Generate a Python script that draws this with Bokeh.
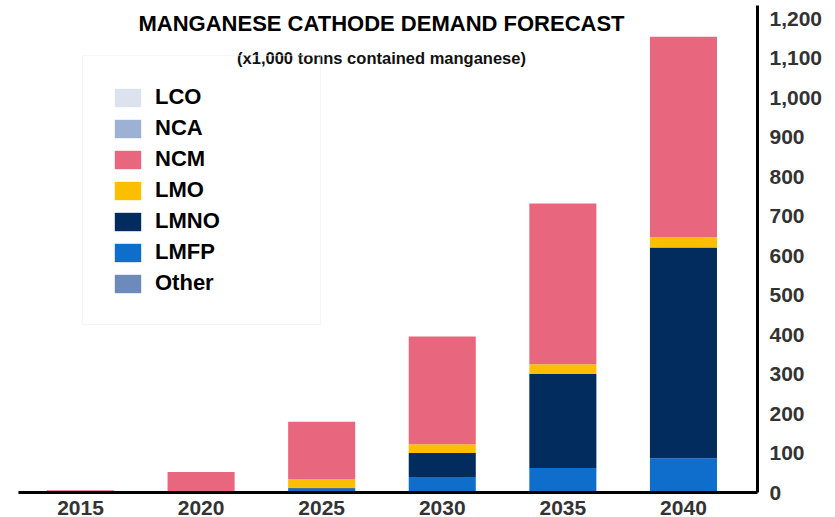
from bokeh.plotting import figure
from bokeh.models import (ColumnDataSource, Range1d, FixedTicker, Legend, LegendItem,
                          Label, NumeralTickFormatter)
from bokeh.embed import file_html
from bokeh.resources import INLINE

years = ["2015", "2020", "2025", "2030", "2035", "2040"]
LCO = [0, 0, 0, 0, 0, 0]
NCA = [0, 0, 0, 0, 0, 0]
NCM = [6, 52, 145, 273, 407, 508]
LMO = [0, 0, 22, 22, 25, 26]
LMNO = [0, 0, 2, 61, 238, 533]
LMFP = [0, 0, 10, 39, 62, 87]
Other = [0, 0, 0, 0, 0, 0]
y_ticks = list(range(0, 1201, 100))

colors = {
    "LCO": "#DCE3EF", "NCA": "#9DB1D4", "NCM": "#E8677F", "LMO": "#FBBF00",
    "LMNO": "#032C5E", "LMFP": "#0F6DCB", "Other": "#6D8BBA",
}
legend_order = ["LCO", "NCA", "NCM", "LMO", "LMNO", "LMFP", "Other"]
stack_order = ["Other", "LMFP", "LMNO", "LMO", "NCM", "NCA", "LCO"]

src = ColumnDataSource(dict(x=list(range(len(years))), LCO=LCO, NCA=NCA, NCM=NCM,
                            LMO=LMO, LMNO=LMNO, LMFP=LMFP, Other=Other))

FONT = "Liberation Sans"

p = figure(width=835, height=517, x_range=Range1d(-0.514, 5.614), y_range=Range1d(0, 1233),
           output_backend="svg", toolbar_location=None, y_axis_location="right",
           min_border_left=18, min_border_top=5, min_border_right=78, min_border_bottom=0)
p.outline_line_color = None
p.grid.visible = False
p.background_fill_color = "white"
p.border_fill_color = "white"

rs = p.vbar_stack(stack_order, x="x", width=0.556, source=src,
                  color=[colors[k] for k in stack_order], line_color=None)
rmap = dict(zip(stack_order, rs))

# axes
xa = p.xaxis[0]
xa.ticker = FixedTicker(ticks=list(range(len(years))))
xa.major_label_overrides = {i: y for i, y in enumerate(years)}
xa.axis_line_width = 3
xa.axis_line_color = "black"
xa.major_tick_line_color = None
xa.minor_tick_line_color = None
xa.major_label_standoff = 2
xa.major_label_text_font = FONT
xa.major_label_text_font_style = "bold"
xa.major_label_text_font_size = "21px"
xa.major_label_text_color = "#333333"

ya = p.yaxis[0]
ya.ticker = FixedTicker(ticks=y_ticks)
ya.formatter = NumeralTickFormatter(format="0,0")
ya.axis_line_width = 3
ya.axis_line_color = "black"
ya.major_tick_line_color = None
ya.minor_tick_line_color = None
ya.major_label_standoff = 6
ya.major_label_text_font = FONT
ya.major_label_text_font_style = "bold"
ya.major_label_text_font_size = "21px"
ya.major_label_text_color = "#333333"

legend = Legend(items=[LegendItem(label=k, renderers=[rmap[k]]) for k in legend_order],
                location=(64, 167), glyph_width=33, glyph_height=23, label_height=23,
                spacing=5, padding=28, label_standoff=11, label_width=137,
                label_text_font=FONT, label_text_font_style="bold",
                label_text_font_size="22px", label_text_color="black",
                border_line_color="#EDEDED", border_line_width=1,
                background_fill_alpha=0.0)
p.add_layout(legend, "center")

# titles
p.add_layout(Label(x=363, y=469, x_units="screen", y_units="screen",
                   text="MANGANESE CATHODE DEMAND FORECAST", text_align="center",
                   text_baseline="middle", text_font=FONT, text_font_style="bold",
                   text_font_size="22px", text_color="black"))
p.add_layout(Label(x=363, y=435, x_units="screen", y_units="screen",
                   text="(x1,000 tonns contained manganese)", text_align="center",
                   text_baseline="middle", text_font=FONT, text_font_style="bold",
                   text_font_size="16.5px", text_color="#111111"))

open("out.html", "w").write(file_html(p, INLINE))
